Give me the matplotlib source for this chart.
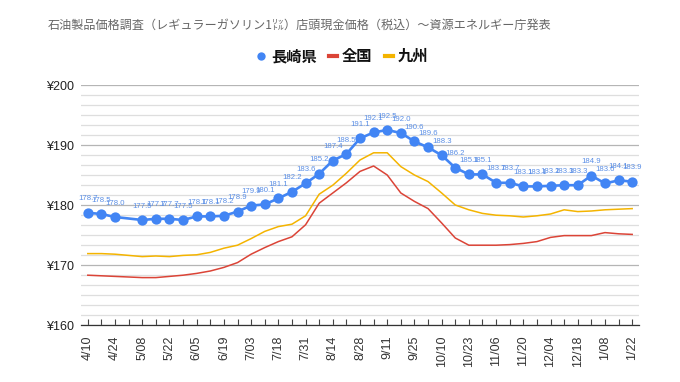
import numpy as np
import matplotlib
matplotlib.use("Agg")
import matplotlib.pyplot as plt
from matplotlib.ticker import MultipleLocator, FixedLocator
from matplotlib.lines import Line2D

dates = ["4/10", "4/17", "4/24", "5/01", "5/08", "5/15", "5/22", "5/29", "6/05", "6/12",
         "6/19", "6/26", "7/03", "7/10", "7/18", "7/24", "7/31", "8/07", "8/14", "8/21",
         "8/28", "9/04", "9/11", "9/19", "9/25", "10/02", "10/10", "10/16", "10/23", "10/30",
         "11/06", "11/13", "11/20", "11/27", "12/04", "12/11", "12/18", "12/25", "1/08", "1/15",
         "1/22"]

nagasaki = [178.7, 178.5, 178.0, np.nan, 177.5, 177.7, 177.7, 177.5, 178.1, 178.1,
            178.2, 178.9, 179.9, 180.1, 181.1, 182.2, 183.6, 185.2, 187.4, 188.5,
            191.1, 192.1, 192.5, 192.0, 190.6, 189.6, 188.3, 186.2, 185.1, 185.1,
            183.7, 183.7, 183.1, 183.1, 183.2, 183.3, 183.3, 184.9, 183.6, 184.1,
            183.9]

zenkoku = [168.3, 168.2, 168.1, 168.0, 167.9, 167.9, 168.1, 168.3, 168.6, 169.0,
           169.6, 170.4, 171.8, 172.9, 173.9, 174.7, 176.7, 180.3, 182.0, 183.7,
           185.6, 186.5, 185.0, 182.0, 180.6, 179.4, 177.0, 174.5, 173.3, 173.3,
           173.3, 173.4, 173.6, 173.9, 174.6, 174.9, 174.9, 174.9, 175.4, 175.2,
           175.1]

kyushu = [171.9, 171.9, 171.8, 171.6, 171.4, 171.5, 171.4, 171.6, 171.7, 172.1,
          172.8, 173.3, 174.4, 175.6, 176.4, 176.8, 178.2, 181.8, 183.3, 185.3,
          187.5, 188.7, 188.7, 186.4, 185.0, 183.9, 182.0, 180.0, 179.2, 178.6,
          178.3, 178.2, 178.0, 178.2, 178.5, 179.2, 178.9, 179.0, 179.2, 179.3,
          179.4]

y_ticks = [160, 170, 180, 190, 200]
title = "石油製品価格調査（レギュラーガソリン1㍑）店頭現金価格（税込）～資源エネルギー庁発表"
series_names = ["長崎県", "全国", "九州"]

BLUE = "#4285F4"
RED = "#DB4437"
YELLOW = "#F4B400"

plt.rcParams['font.family'] = ['Liberation Sans', 'Noto Sans CJK JP', 'DejaVu Sans']

W, H = 680, 382
fig = plt.figure(figsize=(W / 100, H / 100), dpi=100)
ax = fig.add_axes([81 / W, 1 - 325 / H, (639 - 81) / W, (325 - 85) / H])

x = np.arange(len(dates))
nag = np.array(nagasaki, dtype=float)
valid = ~np.isnan(nag)

ax.plot(x, zenkoku, color=RED, lw=1.1, zorder=3)
ax.plot(x, kyushu, color=YELLOW, lw=1.1, zorder=3)
ax.plot(x[valid], nag[valid], color=BLUE, lw=1.9, marker='o', markersize=7.4,
        markeredgewidth=0, zorder=4)

for xi, yi in zip(x[valid], nag[valid]):
    ax.annotate(f"{yi:.1f}", (xi, yi), xytext=(0, 10), textcoords='offset points',
                ha='center', va='center', fontsize=5.6, color="#5b8fe6", zorder=5)

ax.set_xlim(-0.5, len(dates) - 0.5)
ax.set_ylim(160, 200)
ax.set_yticks(y_ticks)
ax.set_yticklabels([f"¥{v}" for v in y_ticks])
ax.yaxis.set_minor_locator(MultipleLocator(10 / 6))
ax.tick_params(axis='y', which='both', length=0, pad=5, labelsize=9, labelcolor='#222222')

ax.xaxis.set_major_locator(FixedLocator(x[::2]))
ax.xaxis.set_minor_locator(FixedLocator(x[1::2]))
ax.set_xticklabels(dates[::2], rotation=90)
ax.tick_params(axis='x', which='both', direction='in', length=4.5, width=0.8,
               color='#444444', pad=7.5, labelsize=9, labelcolor='#333333')

ax.grid(axis='y', which='major', color='#b5b5b5', lw=0.9, zorder=0)
ax.grid(axis='y', which='minor', color='#dedede', lw=0.9, zorder=0)
ax.set_axisbelow(True)
for s in ['top', 'right', 'left']:
    ax.spines[s].set_visible(False)
ax.spines['bottom'].set_color('#333333')
ax.spines['bottom'].set_linewidth(0.9)

fig.text(48 / W, 1 - 25 / H, title, ha='left', va='center', fontsize=8.7,
         color='#666666', family=['Noto Sans CJK JP'])

# legend
ly = 1 - 56 / H
fig.add_artist(Line2D([261 / W], [ly], marker='o', markersize=6, color=BLUE,
                      markeredgewidth=0, transform=fig.transFigure))
fig.add_artist(Line2D([329 / W, 337 / W], [ly, ly], lw=3, color=RED,
                      transform=fig.transFigure))
fig.add_artist(Line2D([385 / W, 393 / W], [ly, ly], lw=3, color=YELLOW,
                      transform=fig.transFigure))
for tx, name in zip([271, 342, 398], series_names):
    fig.text(tx / W, ly, name, ha='left', va='center', fontsize=11, fontweight='bold',
             color='#111111', family=['Noto Sans CJK JP'])

fig.savefig("out.png", dpi=100)
